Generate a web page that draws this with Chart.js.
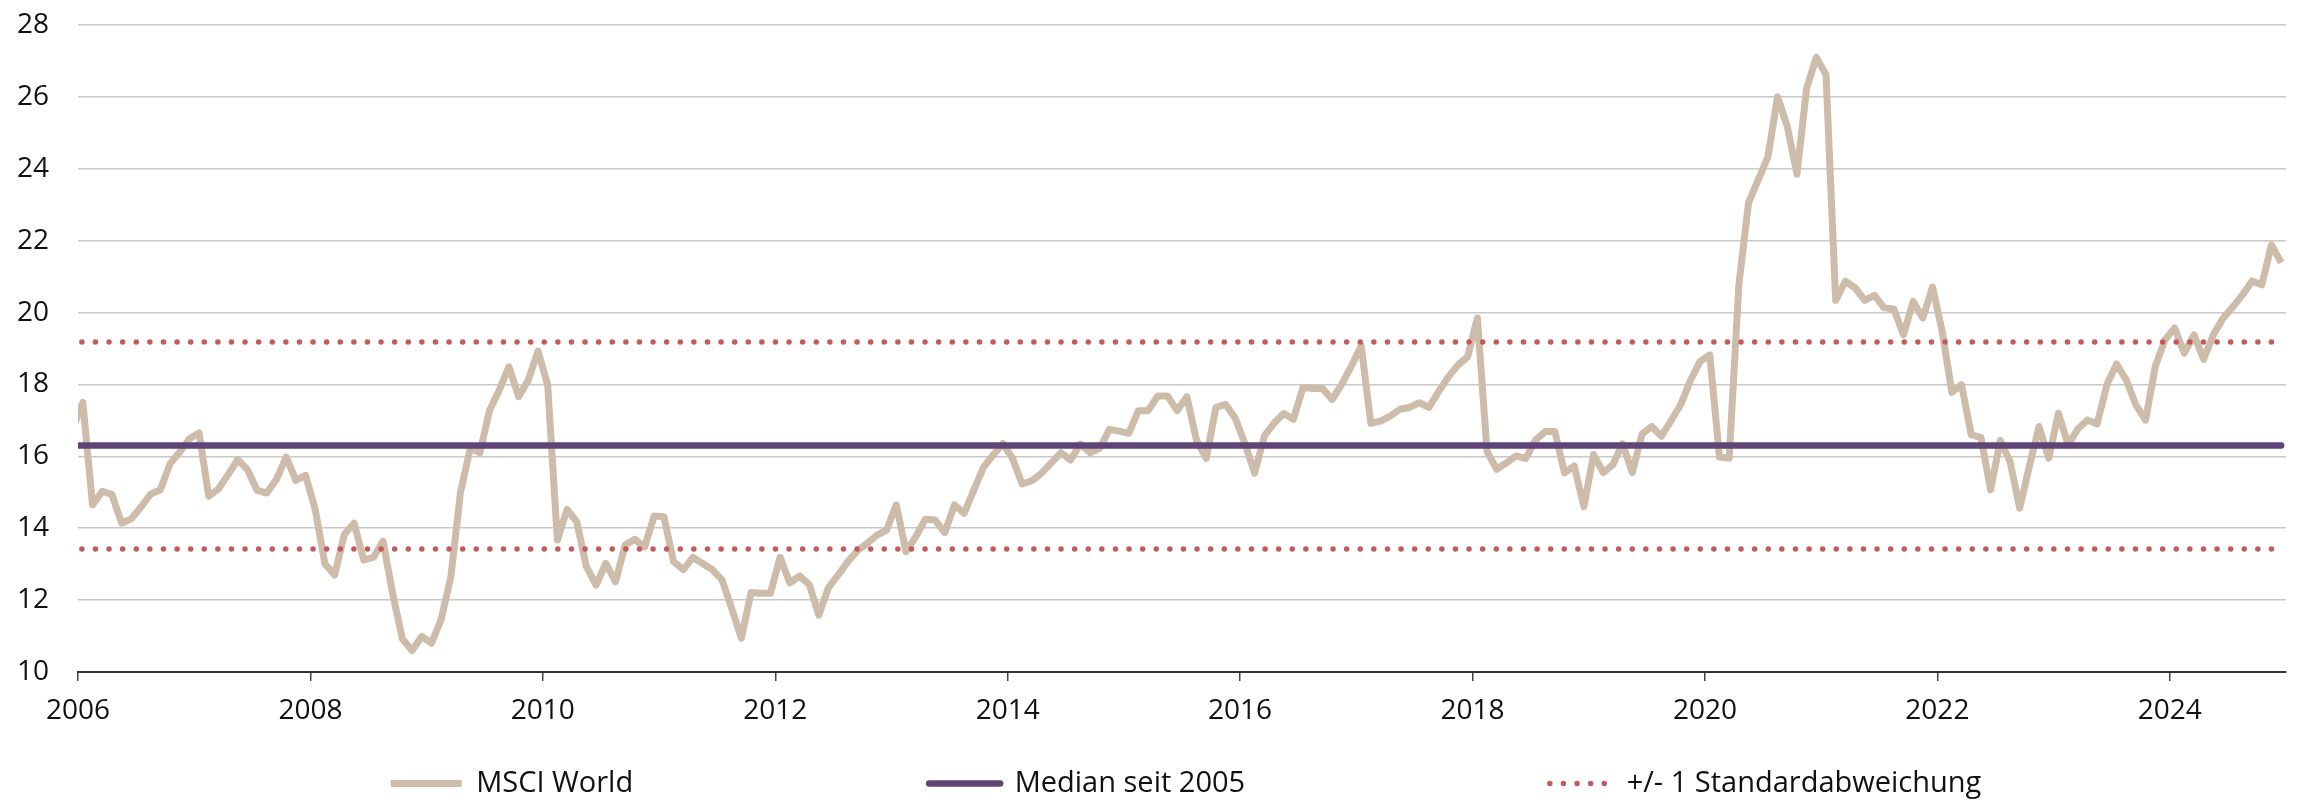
<!DOCTYPE html>
<html>
<head>
<meta charset="utf-8">
<script src="https://cdn.jsdelivr.net/npm/chart.js@4.4.1/dist/chart.umd.min.js"></script>
<style>
  html, body { margin: 0; padding: 0; background: #ffffff; }
  canvas { display: block; }
</style>
</head>
<body>
<canvas id="chart" width="2303" height="804"></canvas>
<script>
// ---------- data ----------
const firstMonth = { year: 2005, month: 12 };   // first monthly observation (Dec 2005)

const msciWorld = [
  16.8,
  17.5, 14.65, 15.03, 14.94, 14.14, 14.26, 14.59, 14.95, 15.07, 15.79, 16.12, 16.49,
  16.65, 14.89, 15.09, 15.49, 15.91, 15.63, 15.05, 14.98, 15.36, 15.98, 15.33, 15.47,
  14.52, 13.01, 12.70, 13.83, 14.14, 13.12, 13.19, 13.64, 12.17, 10.92, 10.60, 10.99,
  10.80, 11.46, 12.65, 15.01, 16.22, 16.10, 17.28, 17.84, 18.49, 17.66, 18.12, 18.93,
  17.98, 13.67, 14.52, 14.18, 12.93, 12.42, 13.02, 12.51, 13.53, 13.69, 13.48, 14.34,
  14.32, 13.07, 12.85, 13.19, 13.02, 12.85, 12.56, 11.77, 10.94, 12.21, 12.19, 12.19,
  13.19, 12.48, 12.67, 12.44, 11.58, 12.35, 12.70, 13.07, 13.38, 13.58, 13.81, 13.95,
  14.65, 13.35, 13.76, 14.25, 14.23, 13.88, 14.65, 14.41, 15.06, 15.69, 16.04, 16.36,
  15.94, 15.23, 15.32, 15.53, 15.82, 16.10, 15.90, 16.34, 16.10, 16.22, 16.75, 16.70,
  16.64, 17.27, 17.27, 17.68, 17.68, 17.27, 17.66, 16.45, 15.94, 17.36, 17.45, 17.06,
  16.36, 15.53, 16.56, 16.92, 17.19, 17.03, 17.92, 17.89, 17.89, 17.58, 18.01, 18.51,
  19.08, 16.92, 16.98, 17.12, 17.31, 17.36, 17.49, 17.36, 17.80, 18.21, 18.54, 18.77,
  19.85, 16.13, 15.64, 15.82, 16.01, 15.94, 16.45, 16.69, 16.69, 15.54, 15.73, 14.60,
  16.05, 15.55, 15.77, 16.35, 15.55, 16.62, 16.83, 16.56, 16.99, 17.44, 18.11, 18.64,
  18.82, 15.98, 15.95, 20.77, 23.05, 23.69, 24.33, 26.00, 25.18, 23.85, 26.24, 27.10,
  26.62, 20.34, 20.87, 20.69, 20.34, 20.48, 20.13, 20.10, 19.38, 20.31, 19.85, 20.71,
  19.47, 17.78, 17.99, 16.60, 16.53, 15.07, 16.44, 15.86, 14.56, 15.72, 16.83, 15.95,
  17.20, 16.32, 16.76, 17.01, 16.90, 17.99, 18.57, 18.13, 17.43, 17.01, 18.50, 19.24,
  19.57, 18.87, 19.38, 18.70, 19.38, 19.84, 20.15, 20.49, 20.88, 20.77, 21.88, 21.39
];
const medianSeit2005 = [16.30];
const stdDevBand = [13.42, 19.18];          // median -/+ 1 standard deviation
const yearTicks = [2006, 2008, 2010, 2012, 2014, 2016, 2018, 2020, 2022, 2024];
const valueTicks = [10, 12, 14, 16, 18, 20, 22, 24, 26, 28];
const seriesLabels = ['MSCI World', 'Median seit 2005', '+/- 1 Standardabweichung'];

// monthly observations placed at mid-month on a decimal-year axis
const monthPos = msciWorld.map((_, i) => {
  const m0 = firstMonth.month - 1 + i;
  const y = firstMonth.year + Math.floor(m0 / 12);
  const m = m0 % 12;
  return y + (m + 0.5) / 12;
});
const msciPoints = msciWorld.map((v, i) => ({ x: monthPos[i], y: v }));
const xFirst = monthPos[0], xLast = monthPos[monthPos.length - 1];
const flat = v => [{ x: xFirst, y: v }, { x: xLast, y: v }];

// ---------- styles ----------
const FONT = "'Open Sans', 'Noto Sans', sans-serif";
const BEIGE = '#cdbca9';
const PURPLE = '#5f4477';
const RED = '#c55a5a';
const DOTS = [0, 13.6];
const DOT_OFFSET = 4.9;

// legend layout: wide horizontal gaps, compact height
const LEGEND_BOX_H = 72;
const LEGEND_ITEM_TOP = 37;
const LEGEND_SHIFT = 43;
const legendLayout = {
  id: 'legendLayout',
  afterInit(chart) {
    const lg = chart.legend;
    const fit0 = lg.fit;
    lg.fit = function () {
      fit0.call(this);
      if (this.isHorizontal()) this.height = LEGEND_BOX_H;
    };
    const draw0 = lg._draw;
    lg._draw = function () {
      const t = this.top, l = this.left, r = this.right;
      this.top = t + LEGEND_ITEM_TOP - this.options.labels.padding;
      this.left = l + LEGEND_SHIFT;
      this.right = r + LEGEND_SHIFT;
      draw0.call(this);
      this.top = t; this.left = l; this.right = r;
    };
  }
};

Chart.defaults.font.family = FONT;
Chart.defaults.color = '#111111';

const chart = new Chart(document.getElementById('chart'), {
  type: 'line',
  data: {
    datasets: [
      {
        label: seriesLabels[0], data: msciPoints, order: 3,
        borderColor: BEIGE, backgroundColor: BEIGE, borderWidth: 7,
        borderJoinStyle: 'round', borderCapStyle: 'butt',
        pointRadius: 0, tension: 0
      },
      {
        label: seriesLabels[1], data: flat(medianSeit2005[0]), order: 2,
        borderColor: PURPLE, backgroundColor: PURPLE, borderWidth: 6.5,
        borderCapStyle: 'round', pointRadius: 0
      },
      {
        label: seriesLabels[2], data: flat(stdDevBand[1]), order: 1,
        borderColor: RED, backgroundColor: RED, borderWidth: 5.5,
        borderDash: DOTS, borderDashOffset: DOT_OFFSET, borderCapStyle: 'round',
        pointRadius: 0
      },
      {
        label: seriesLabels[2], data: flat(stdDevBand[0]), order: 1,
        borderColor: RED, backgroundColor: RED, borderWidth: 5.5,
        borderDash: DOTS, borderDashOffset: DOT_OFFSET, borderCapStyle: 'round',
        pointRadius: 0
      }
    ]
  },
  options: {
    responsive: false,
    animation: false,
    devicePixelRatio: 1,
    layout: { padding: { top: 25, right: 17, bottom: 0, left: 0 } },
    datasets: { line: { clip: 0 } },
    plugins: {
      tooltip: { enabled: false },
      legend: {
        position: 'bottom',
        align: 'center',
        labels: {
          filter: item => item.datasetIndex < 3,
          sort: (a, b) => a.datasetIndex - b.datasetIndex,
          generateLabels: c => {
            const items = Chart.defaults.plugins.legend.labels.generateLabels(c);
            return items.map(it => {
              const ds = c.data.datasets[it.datasetIndex];
              it.lineDash = ds.borderDash || [];
              it.lineDashOffset = ds.borderDashOffset || 0;
              it.lineCap = ds.borderCapStyle || 'butt';
              it.lineWidth = ds.borderWidth;
              it.strokeStyle = ds.borderColor;
              it.fillStyle = ds.borderColor;
              return it;
            });
          },
          usePointStyle: true,
          pointStyle: 'line',
          pointStyleWidth: 71,
          padding: 296,
          color: '#111111',
          font: { size: 29, family: FONT }
        }
      }
    },
    scales: {
      x: {
        type: 'linear',
        min: 2006, max: 2025,
        afterBuildTicks: s => { s.ticks = yearTicks.map(v => ({ value: v })); },
        afterFit: s => { s.height = 60; },
        ticks: {
          callback: v => String(v),
          padding: 13,
          maxRotation: 0,
          autoSkip: false,
          color: '#111111',
          font: { size: 28, family: FONT }
        },
        grid: {
          drawOnChartArea: false, drawTicks: true, tickLength: 9,
          color: '#444444', lineWidth: 1.5
        },
        border: { display: true, color: '#333333', width: 2 }
      },
      y: {
        min: 10, max: 28,
        afterBuildTicks: s => { s.ticks = valueTicks.map(v => ({ value: v })); },
        afterFit: s => { s.width = 78; s.paddingTop = 0; s.paddingBottom = 0; },
        ticks: {
          padding: 29,
          color: '#111111',
          font: { size: 28, family: FONT }
        },
        grid: { drawTicks: false, color: '#c8c8c8', lineWidth: 1.5 },
        border: { display: false }
      }
    }
  },
  plugins: [legendLayout]
});
</script>
</body>
</html>
